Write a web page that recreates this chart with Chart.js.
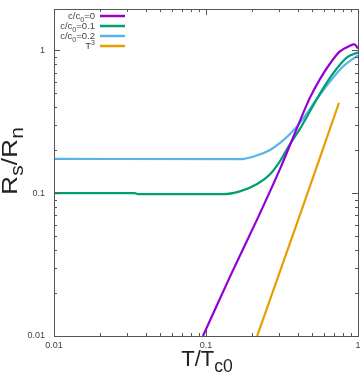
<!DOCTYPE html>
<html>
<head>
<meta charset="utf-8">
<script src="https://cdn.jsdelivr.net/npm/chart.js@4/dist/chart.umd.min.js"></script>
<style>
  html, body { margin: 0; padding: 0; background: #fff; }
  #wrap { width: 364px; height: 373px; }
</style>
</head>
<body>
<div id="wrap"><canvas id="chart"></canvas></div>
<script>
// dados (T/Tc0, Rs/Rn)
const tPure = [0.0955, 0.148, 0.217, 0.307, 0.415, 0.483, 0.562, 0.655, 0.76, 0.885, 0.952, 1.0];
const rPure = [0.01, 0.0278, 0.0656, 0.148, 0.321, 0.467, 0.63, 0.81, 0.984, 1.08, 1.10, 1.03];

const tC01 = [0.01, 0.034, 0.036, 0.129, 0.167, 0.217, 0.264, 0.307, 0.357, 0.415, 0.562, 0.685, 0.847, 1.0];
const rC01 = [0.1, 0.1, 0.0985, 0.0984, 0.103, 0.116, 0.136, 0.168, 0.221, 0.282, 0.498, 0.689, 0.893, 0.968];

const tC02 = [0.01, 0.167, 0.210, 0.264, 0.307, 0.357, 0.415, 0.521, 0.654, 0.797, 1.0];
const rC02 = [0.174, 0.173, 0.182, 0.201, 0.225, 0.260, 0.311, 0.438, 0.605, 0.771, 0.922];

const tCube = [0.217, 0.403, 0.75];
const rCube = [0.01, 0.0646, 0.43];

const seriesLabels = ['c/c_0=0', 'c/c_0=0.1', 'c/c_0=0.2', 'T^3'];
const seriesColors = ['#9400d3', '#009e73', '#56b4e9', '#e69f00'];
const seriesMonotone = [false, true, true, false];

const xTicks = [0.01, 0.1, 1];
const yTicks = [0.01, 0.1, 1];

const textColor = '#444';
const fontFamily = "'Liberation Sans', Arial, sans-serif";

function toPoints(xs, ys) {
    return xs.map((x, i) => ({ x: x, y: ys[i] }));
}

// texto com _sub e ^sup (estilo gnuplot)
function parseRich(s) {
    const parts = [];
    let i = 0;
    while (i < s.length) {
        const ch = s[i];
        if (ch === '_' || ch === '^') {
            const mode = ch === '_' ? -1 : 1;
            let txt;
            if (s[i + 1] === '{') {
                const end = s.indexOf('}', i);
                txt = s.slice(i + 2, end);
                i = end + 1;
            } else {
                txt = s[i + 1];
                i += 2;
            }
            parts.push({ t: txt, m: mode });
        } else {
            let j = i;
            while (j < s.length && s[j] !== '_' && s[j] !== '^') j++;
            parts.push({ t: s.slice(i, j), m: 0 });
            i = j;
        }
    }
    return parts;
}

function drawRich(ctx, s, x, y, size, align, subScale) {
    const parts = parseRich(s);
    const small = size * (subScale || 0.75);
    let total = 0;
    parts.forEach(p => {
        ctx.font = (p.m ? small : size) + 'px ' + fontFamily;
        p.w = ctx.measureText(p.t).width;
        total += p.w;
    });
    let cx = x;
    if (align === 'right') cx = x - total;
    if (align === 'center') cx = x - total / 2;
    ctx.textAlign = 'left';
    ctx.textBaseline = 'alphabetic';
    parts.forEach(p => {
        ctx.font = (p.m ? small : size) + 'px ' + fontFamily;
        let dy = 0;
        if (p.m === -1) dy = size * 0.27;
        if (p.m === 1) dy = -size * 0.42;
        ctx.fillText(p.t, cx, y + dy);
        cx += p.w;
    });
}

function logMinors(min, max) {
    const out = [];
    for (let e = -3; e <= 1; e++) {
        for (let k = 1; k <= 9; k++) {
            const v = k * Math.pow(10, e);
            if (v >= min * 0.999 && v <= max * 1.001) out.push({ v: v, major: k === 1 });
        }
    }
    return out;
}

// moldura, ticks para dentro, legenda e títulos
const framePlugin = {
    id: 'frame',
    afterDraw(chart) {
        const ctx = chart.ctx;
        const a = chart.chartArea;
        const xs = chart.scales.x;
        const ys = chart.scales.y;
        ctx.save();
        ctx.strokeStyle = '#555';
        ctx.lineWidth = 1;
        ctx.strokeRect(a.left + 0.5, a.top + 0.5, a.right - a.left, a.bottom - a.top);

        ctx.beginPath();
        logMinors(xs.min, xs.max).forEach(t => {
            const px = Math.round(xs.getPixelForValue(t.v)) + 0.5;
            const len = t.major ? 6 : 3;
            ctx.moveTo(px, a.bottom); ctx.lineTo(px, a.bottom - len);
            ctx.moveTo(px, a.top); ctx.lineTo(px, a.top + len);
        });
        logMinors(ys.min, ys.max).forEach(t => {
            const py = Math.round(ys.getPixelForValue(t.v)) + 0.5;
            const len = t.major ? 6 : 3;
            ctx.moveTo(a.left, py); ctx.lineTo(a.left + len, py);
            ctx.moveTo(a.right, py); ctx.lineTo(a.right - len, py);
        });
        ctx.stroke();

        // legenda (texto à esquerda da amostra de linha)
        ctx.fillStyle = textColor;
        chart.data.datasets.forEach((ds, i) => {
            const yy = a.top + 7 + i * 10;
            drawRich(ctx, seriesLabels[i], a.left + 41, yy + 3, 9.5, 'right');
            ctx.strokeStyle = ds.borderColor;
            ctx.lineWidth = 2.5;
            ctx.beginPath();
            ctx.moveTo(a.left + 46, yy);
            ctx.lineTo(a.left + 71, yy);
            ctx.stroke();
        });

        // títulos dos eixos
        ctx.fillStyle = '#222';
        drawRich(ctx, 'T/T_{c0}', 207, 366, 22, 'center', 0.8);
        ctx.translate(17, 161);
        ctx.rotate(-Math.PI / 2);
        ctx.scale(1.2, 1);
        drawRich(ctx, 'R_s/R_n', 0, 0, 22, 'center', 0.8);
        ctx.restore();
    }
};

const datasets = [
    toPoints(tPure, rPure),
    toPoints(tC01, rC01),
    toPoints(tC02, rC02),
    toPoints(tCube, rCube)
].map((pts, i) => ({
    label: seriesLabels[i],
    data: pts,
    borderColor: seriesColors[i],
    backgroundColor: seriesColors[i],
    borderWidth: 2.2,
    pointRadius: 0,
    tension: 0.3,
    cubicInterpolationMode: seriesMonotone[i] ? 'monotone' : 'default',
    fill: false
}));

new Chart(document.getElementById('chart').getContext('2d'), {
    type: 'line',
    data: { datasets: datasets },
    options: {
        responsive: true,
        maintainAspectRatio: false,
        animation: false,
        devicePixelRatio: 1,
        layout: { padding: { left: 0, right: 6, top: 9, bottom: 0 } },
        plugins: {
            legend: { display: false },
            tooltip: { enabled: false }
        },
        scales: {
            x: {
                type: 'logarithmic',
                min: 0.01,
                max: 1,
                grid: { display: false, drawTicks: false },
                border: { display: false },
                afterBuildTicks: scale => { scale.ticks = xTicks.map(v => ({ value: v })); },
                afterFit: scale => {
                    scale.height = 37;
                    scale.paddingLeft = 0;
                    scale.paddingRight = 0;
                },
                ticks: {
                    autoSkip: false,
                    maxRotation: 0,
                    padding: 4,
                    color: textColor,
                    font: { family: fontFamily, size: 9 },
                    callback: v => String(v)
                }
            },
            y: {
                type: 'logarithmic',
                min: 0.01,
                max: 1.95,
                grid: { display: false, drawTicks: false },
                border: { display: false },
                afterBuildTicks: scale => { scale.ticks = yTicks.map(v => ({ value: v })); },
                afterFit: scale => {
                    scale.width = 54;
                    scale.paddingTop = 0;
                    scale.paddingBottom = 0;
                },
                ticks: {
                    autoSkip: false,
                    padding: 9,
                    color: textColor,
                    font: { family: fontFamily, size: 9 },
                    callback: v => String(v)
                }
            }
        }
    },
    plugins: [framePlugin]
});
</script>
</body>
</html>
